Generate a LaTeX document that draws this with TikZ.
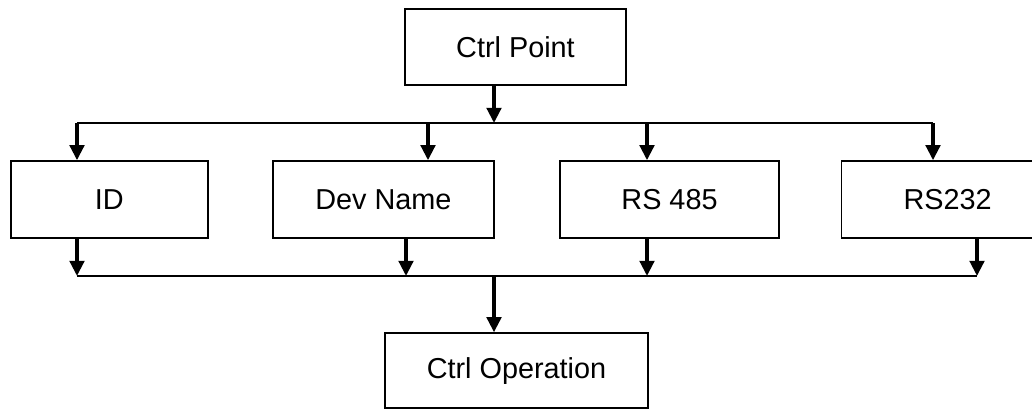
\documentclass[tikz,border=0pt]{standalone}
\usepackage{fontspec}
\setmainfont{Liberation Sans}
\usepackage{tikz}
\usetikzlibrary{arrows.meta,positioning}

\tikzset{
    block/.style={draw, line width=1.1pt, rectangle, text centered, minimum height=1.925cm, font=\fontsize{20.5}{24}\selectfont},
    bus/.style={line width=1.1pt},
    feed/.style={line width=2.6pt, -{Triangle[length=0.38cm,width=0.36cm]}}
}

\begin{document}
\begin{tikzpicture}[x=0.025cm,y=-0.025cm,on grid]
            \useasboundingbox (0,0) rectangle (1032,410);

            \node (ctrl) [block, minimum width=5.525cm, minimum height=1.9cm] at (515.5,47) {Ctrl Point};
            \node (id) [block, minimum width=4.925cm, below left=3.8125cm and 10.15cm of ctrl] {ID};
            \node (dev) [block, minimum width=5.525cm, right=6.85cm of id] {Dev Name};
            \node (rs485) [block, minimum width=5.475cm, right=7.15cm of dev] {RS 485};
            \node (rs232) [block, minimum width=5.3cm, right=6.95cm of rs485] {RS232};
            \node (oper) [block, minimum width=6.575cm, minimum height=1.875cm, below=8.0875cm of ctrl, xshift=0.025cm] {Ctrl Operation};

            % taps on the upper bus
            \coordinate (t0) at (494,123);
            \coordinate (a1) at (77,123);
            \coordinate (a2) at (428,123);
            \coordinate (a3) at (647,123);
            \coordinate (a4) at (933,123);
            % taps on the lower bus
            \coordinate (b1) at (77,276);
            \coordinate (b2) at (406,276);
            \coordinate (b3) at (647,276);
            \coordinate (b4) at (977,276);

            \draw[bus] (a1) -- (a4);
            \draw[bus] (b1) -- (b4);

            \draw[feed] (t0 |- ctrl.south) -- (t0);
            \draw[feed] (a1) -- (a1 |- id.north);
            \draw[feed] (a2) -- (a2 |- dev.north);
            \draw[feed] (a3) -- (a3 |- rs485.north);
            \draw[feed] (a4) -- (a4 |- rs232.north);
            \draw[feed] (b1 |- id.south) -- (b1);
            \draw[feed] (b2 |- dev.south) -- (b2);
            \draw[feed] (b3 |- rs485.south) -- (b3);
            \draw[feed] (b4 |- rs232.south) -- (b4);
            \draw[feed] (t0 |- b1) -- (t0 |- oper.north);

        \end{tikzpicture}
\end{document}
